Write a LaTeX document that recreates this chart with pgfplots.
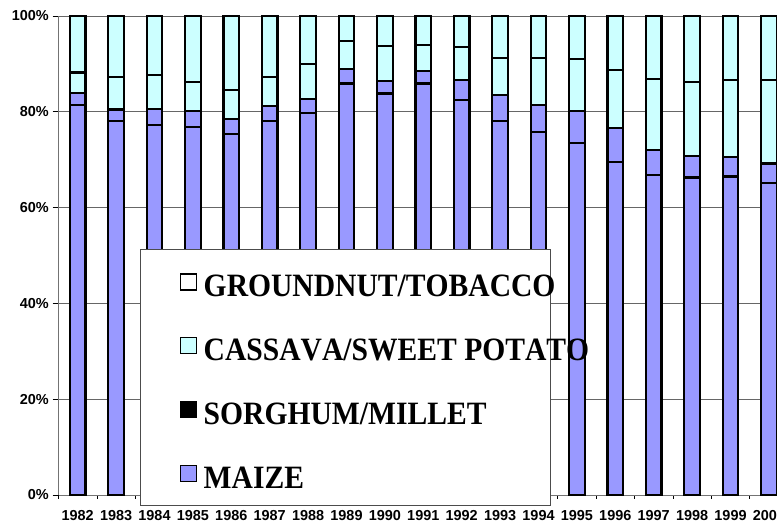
\documentclass[border=0pt]{standalone}
\usepackage{fontspec}
\setmainfont{Liberation Sans}
\newfontfamily\legserif[Kerning=Off]{Liberation Serif}
\usepackage{graphicx}
\usepackage{pgfplots}
\usepackage{pgfplotstable}
\pgfplotsset{compat=1.18}
\pgfplotsset{
  layers/mylayers/.define layer set={axis background,axis grid,axis ticks,axis lines,axis tick labels,pre main,main,boxlayer,axis descriptions,axis foreground}{/pgfplots/layers/standard},
}
\definecolor{maizec}{HTML}{9999FF}
\definecolor{cassc}{HTML}{CCFFFF}
\newcommand\legfont{\legserif\bfseries\fontsize{30}{36}\selectfont}
\newcommand\lt[1]{\scalebox{0.99}[1.09]{#1}}
\newcommand\tickfont{\bfseries\fontsize{14.5}{17}\selectfont}
\pgfplotstableread{
x a b c d
0 81.4 2.5 4.3 11.8
1 78.1 2.4 6.8 12.7
2 77.2 3.4 7.0 12.4
3 76.9 3.2 6.2 13.7
4 75.3 3.2 6.1 15.4
5 78.1 3.1 6.0 12.8
6 79.7 2.9 7.4 10.0
7 85.9 3.1 5.8 5.2
8 83.8 2.7 7.3 6.2
9 85.9 2.7 5.4 6.0
10 82.5 4.1 6.9 6.5
11 78.1 5.4 7.7 8.8
12 75.8 5.6 9.8 8.8
13 73.5 6.7 10.8 9.0
14 69.5 7.1 12.1 11.3
15 66.8 5.2 14.8 13.2
16 66.3 4.5 15.4 13.8
17 66.5 4.1 16.0 13.4
18 65.2 4.0 17.4 13.4
}\data
\begin{document}
\begin{tikzpicture}
\begin{axis}[
  set layers=mylayers,
  at={(58.5bp,30bp)}, anchor=south west,
  scale only axis, width=729.6bp, height=479bp,
  xmin=-0.5, xmax=18.5, ymin=0, ymax=100,
  clip=false,
  axis x line*=bottom, axis y line*=left,
  axis line style={black!55, line width=0.8bp},
  ybar stacked, bar width=15.7bp,
  xtick={0,...,18},
  xticklabels={1982,1983,1984,1985,1986,1987,1988,1989,1990,1991,1992,1993,1994,1995,1996,1997,1998,1999,2000},
  minor xtick={-0.5,0.5,...,18.5},
  ytick={0,20,40,60,80,100},
  yticklabels={0\%,20\%,40\%,60\%,80\%,100\%},
  tick align=outside,
  major tick length=6bp, minor tick length=4bp,
  every major x tick/.append style={draw=none},
  every tick/.append style={black, line width=0.8bp},
  ymajorgrids,
  major grid style={black!60, line width=0.75bp},
  tick label style={font=\tickfont},
  xticklabel style={inner sep=0pt, yshift=-9bp},
  yticklabel style={inner sep=0pt, xshift=-3.5bp},
  legend image code/.code={\draw[#1, line width=1.3bp] (0bp,-5bp) rectangle (16bp,11bp); \path (22.7bp,0bp);},
  legend cell align=left,
  legend style={at={(0.1665,0.4641)}, anchor=north west, draw=none, fill=none,
    inner sep=0pt, row sep=39.8bp, column sep=0pt, font=\legfont,
    nodes={inner sep=0pt, text height=24bp, text depth=0bp, anchor=west}},
]
\addplot[forget plot, fill=maizec, draw=black, line width=2.2bp] table[x=x, y=a] {\data};
\addplot[forget plot, fill=maizec, draw=black, line width=2.2bp] table[x=x, y=b] {\data};
\addplot[forget plot, fill=cassc, draw=black, line width=2.2bp] table[x=x, y=c] {\data};
\addplot[forget plot, fill=cassc, draw=black, line width=2.2bp] table[x=x, y=d] {\data};
\pgfplotsextra{%
  \pgfonlayer{boxlayer}%
  \draw[black!70, line width=0.8bp, fill=white] (rel axis cs:0.1117,0.5136) rectangle (rel axis cs:0.6741,-0.0223);%
  \endpgfonlayer%
}
\addlegendimage{fill=white, draw=black}
\addlegendentry{\lt{GROUNDNUT/TOBACCO}}
\addlegendimage{fill=cassc, draw=black}
\addlegendentry{\lt{CASSAVA/SWEET POTATO}}
\addlegendimage{fill=black, draw=black}
\addlegendentry{\lt{SORGHUM/MILLET}}
\addlegendimage{fill=maizec, draw=black}
\addlegendentry{\lt{MAIZE}}
\end{axis}
\pgfresetboundingbox
\path[use as bounding box] (0bp,0bp) rectangle (777bp,525bp);
\end{tikzpicture}
\end{document}
